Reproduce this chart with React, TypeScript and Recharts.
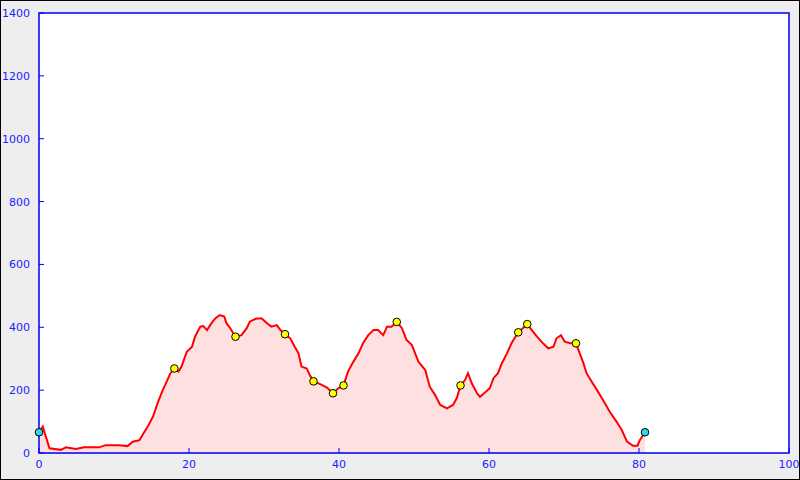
import { ComposedChart, Area, Scatter, XAxis, YAxis, CartesianGrid, ReferenceArea } from 'recharts'

// distance along the route (km) and elevation (m)
const KM = [
  0, 0.5, 1.4, 2.9, 3.6, 4.9, 6, 8, 8.9, 10.7, 11.8, 12.5, 13.4, 13.8, 14.5, 15.2, 15.8,
  16.5, 16.8, 17.5, 18.05, 18.6, 19.0, 19.7, 20.4, 20.8, 21.5, 21.9, 22.4, 23, 23.5, 24.1,
  24.7, 25, 25.5, 26.2, 27, 27.7, 28.1, 29, 29.7, 30.4, 31, 31.7, 32.2, 32.8, 33.5, 34.1,
  34.6, 35, 35.7, 36.1, 36.6, 37.5, 38.4, 39.2, 39.9, 40.6, 41.2, 41.9, 42.6, 43.2, 43.9,
  44.6, 45.2, 45.9, 46.4, 47, 47.7, 48.4, 49, 49.7, 50.6, 51.5, 52.1, 52.8, 53.5, 54.4,
  55.2, 55.7, 56.2, 56.8, 57.2, 57.7, 58.4, 58.8, 59.5, 60.1, 60.6, 61.2, 61.7, 62.4, 63,
  63.9, 65.1, 65.7, 66.4, 67.2, 67.9, 68.6, 69, 69.6, 70.1, 70.8, 71.6, 72.1, 72.6, 73,
  73.7, 74.4, 75.2, 76.1, 77, 77.7, 78.4, 79.2, 79.8, 80.1, 80.8,
]
const ELEV = [
  66, 84, 15, 10, 18, 13, 18, 18, 25, 25, 22, 36, 41, 57, 84, 116, 158,
  200, 215, 253, 269, 259, 275, 322, 338, 370, 402, 404, 391, 413, 428, 439,
  434, 413, 397, 370, 375, 397, 418, 428, 428, 413, 402, 407, 391, 378, 365, 338,
  317, 275, 269, 248, 228, 219, 208, 190, 206, 215, 259, 290, 317, 349, 375,
  391, 391, 375, 402, 402, 417, 397, 360, 344, 290, 264, 211, 185, 153, 142,
  153, 174, 215, 232, 254, 222, 190, 179, 193, 206, 238, 254, 285, 317, 349,
  384, 410, 391, 370, 349, 333, 338, 365, 375, 354, 349, 349, 317, 285, 254,
  227, 200, 169, 131, 100, 73, 36, 23, 23, 41, 66,
]

// waypoints
const WAY_KM = [18.05, 26.2, 32.8, 36.6, 39.2, 40.6, 47.7, 56.2, 63.9, 65.1, 71.6]
const WAY_ELEV = [269, 370, 378, 228, 190, 215, 417, 215, 384, 410, 349]
const END_KM = [0, 80.8]
const END_ELEV = [66, 66]

const X_TICKS = [0, 20, 40, 60, 80, 100]
const Y_TICKS = [0, 200, 400, 600, 800, 1000, 1200, 1400]

const profile = KM.map((km, i) => ({ km, elev: ELEV[i] }))
const waypoints = WAY_KM.map((km, i) => ({ km, elev: WAY_ELEV[i] }))
const ends = END_KM.map((km, i) => ({ km, elev: END_ELEV[i] }))

const BLUE = '#0000ff'
const FONT = 'DejaVu Sans, sans-serif'

const XTick = (props: any) => {
  const { x, y, payload } = props
  return (
    <g>
      <line x1={x} y1={y} x2={x} y2={y - 5} stroke={BLUE} strokeWidth={1} />
      <text x={x} y={y + 15} textAnchor="middle" fill="#2222ff" fontSize={11} fontFamily={FONT}>
        {payload.value}
      </text>
    </g>
  )
}

const YTick = (props: any) => {
  const { x, y, payload } = props
  return (
    <g>
      <line x1={x} y1={y} x2={x + 5} y2={y} stroke={BLUE} strokeWidth={1} />
      <text x={x - 9} y={y + 4} textAnchor="end" fill="#2222ff" fontSize={11} fontFamily={FONT}>
        {payload.value}
      </text>
    </g>
  )
}

export default function App() {
  return (
    <div style={{ position: 'fixed', left: 0, top: 0, width: 800, height: 480, boxSizing: 'border-box', border: '1px solid #000', background: '#eeeeee' }}>
      <div style={{ position: 'absolute', left: -1, top: -1 }}>
        <ComposedChart width={800} height={480} data={profile} margin={{ top: 13, right: 11, bottom: 0, left: 0 }}>
          <ReferenceArea x1={0} x2={100} y1={0} y2={1400} fill="#ffffff" fillOpacity={1} stroke="none" />
          <CartesianGrid stroke="#c8c8c8" strokeWidth={1} />
          <XAxis
            dataKey="km"
            type="number"
            domain={[0, 100]}
            ticks={X_TICKS}
            interval={0}
            height={27}
            tickSize={0}
            tickMargin={0}
            axisLine={false}
            tick={<XTick />}
          />
          <YAxis
            dataKey="elev"
            type="number"
            domain={[0, 1400]}
            ticks={Y_TICKS}
            interval={0}
            width={39}
            tickSize={0}
            tickMargin={0}
            axisLine={false}
            tick={<YTick />}
          />
          <Area
            type="linear"
            dataKey="elev"
            stroke="#ff0000"
            strokeWidth={2}
            fill="#ff0000"
            fillOpacity={0.12}
            dot={false}
            activeDot={false}
            isAnimationActive={false}
          />
          <ReferenceArea x1={0} x2={100} y1={0} y2={1400} fill="none" stroke={BLUE} strokeWidth={1.5} />
          <Scatter data={waypoints} dataKey="elev" fill="#ffff00" stroke="#000" strokeWidth={1} isAnimationActive={false}
            shape={(p: any) => <circle cx={p.cx} cy={p.cy} r={3.8} fill="#ffff00" stroke="#000" strokeWidth={1} />} />
          <Scatter data={ends} dataKey="elev" fill="#22ddee" stroke="#000" strokeWidth={1} isAnimationActive={false}
            shape={(p: any) => <circle cx={p.cx} cy={p.cy} r={3.8} fill="#22ddee" stroke="#000" strokeWidth={1} />} />
        </ComposedChart>
      </div>
    </div>
  )
}
